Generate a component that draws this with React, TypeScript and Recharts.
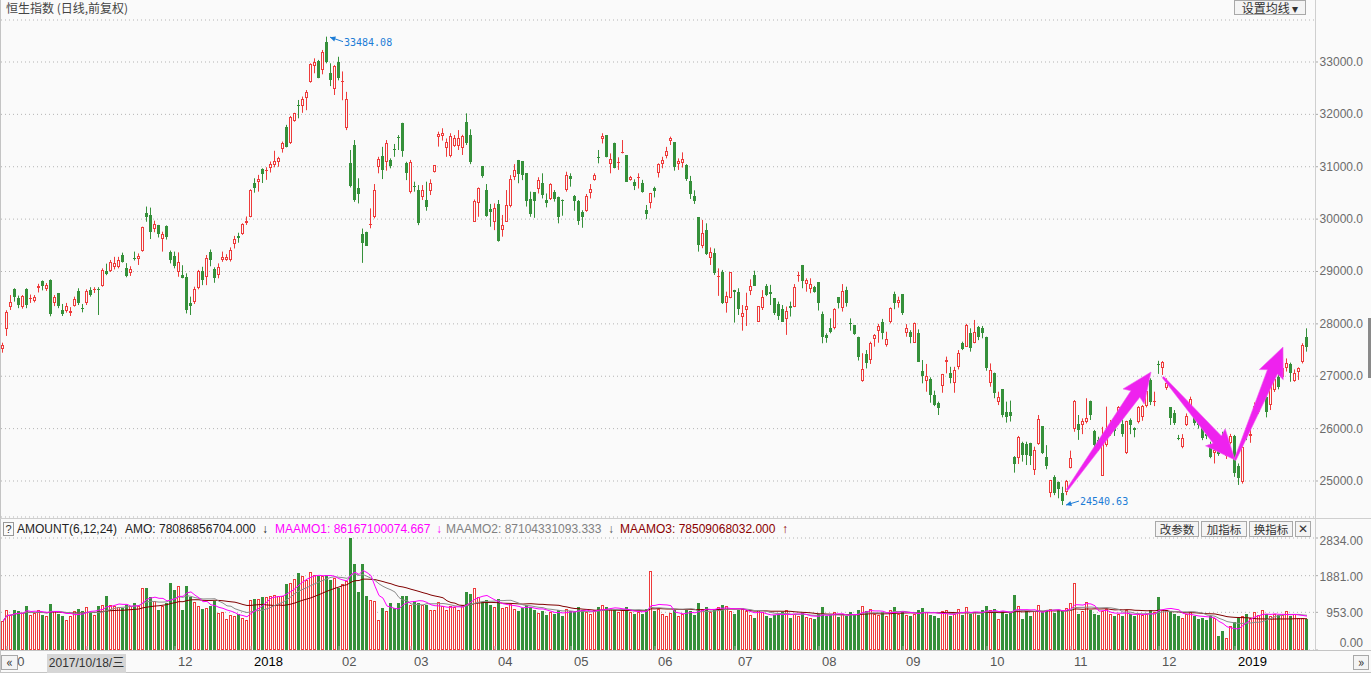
import React from "react"
import {
  ComposedChart,
  Bar,
  Line,
  XAxis,
  YAxis,
  CartesianGrid,
  ReferenceLine,
  ReferenceDot,
} from "recharts"

const RED = "#ee3b3b"
const GREEN = "#35903a"
const BG = "#fafafa"
const W = 1371

// 日K [开, 高, 低, 收], 2017/09/29 起
const candles: number[][] = [
  [27520,27640,27450,27600],[27910,28260,27770,28220],[28330,28550,28265,28425],[28665,28680,28425,28505],[28495,28540,28300,28360],[28330,28550,28290,28530],[28665,28680,28300,28360],[28470,28560,28400,28500],[28445,28550,28410,28520],[28690,28765,28600,28720],
  [28820,28830,28640,28725],[28665,28780,28630,28740],[28830,28850,28145,28190],[28390,28550,28340,28520],[28585,28590,28300,28340],[28265,28380,28150,28190],[28250,28400,28215,28340],[28200,28320,28150,28250],[28350,28520,28330,28475],[28635,28680,28360,28395],
  [28310,28380,28220,28295],[28395,28660,28360,28635],[28650,28700,28520,28555],[28640,28700,28590,28660],[28670,28700,28170,28660],[28730,29060,28710,29030],[29000,29150,28930,28955],[29015,29220,28990,29180],[29090,29280,29040,29160],[29090,29280,29060,29220],
  [29315,29360,29170,29185],[29060,29160,28890,28910],[28970,29100,28915,29050],[29260,29380,29210,29250],[29235,29345,29125,29300],[29400,29856,29378,29845],[30125,30240,29950,30035],[30080,30220,29620,29745],[29810,29970,29750,29905],[29880,29890,29650,29715],
  [29630,29760,29380,29715],[29860,29880,29610,29665],[29380,29400,29155,29220],[29300,29380,29060,29110],[28990,29365,28900,29180],[28930,29120,28870,28880],[28890,28965,28200,28265],[28395,28520,28170,28340],[28425,28710,28380,28660],[28680,29030,28660,29015],
  [29015,29090,28740,28840],[28890,29315,28740,29250],[29380,29420,29100,29210],[29040,29080,28785,28880],[28935,29155,28870,29080],[29220,29380,29185,29285],[29220,29330,29205,29270],[29220,29460,29190,29410],[29525,29680,29440,29620],[29680,29740,29550,29640],
  [29715,29920,29700,29905],[29935,30050,29890,29960],[30050,30570,30035,30555],[30695,30780,30505,30600],[30715,30845,30525,30765],[30950,30970,30690,30865],[30930,30990,30750,30940],[30975,31100,30890,31055],[31035,31305,30990,31110],[31100,31190,31000,31160],
  [31335,31480,31270,31450],[31755,31800,31370,31385],[31450,31970,31435,31945],[31875,32030,31860,32020],[32185,32275,31925,32180],[32165,32340,32030,32285],[32310,32465,32080,32435],[32625,32975,32605,32960],[32930,33070,32785,33005],[33020,33040,32690,32700],
  [32850,33230,32765,33185],[33390,33484.08,32975,33005],[32795,32975,32540,32655],[32480,32940,32370,32925],[33005,33100,32650,32690],[32620,32820,32270,32640],[31740,32430,31700,32295],[31080,31320,30605,30635],[31415,31510,30330,30365],[30590,30780,30300,30480],
  [29715,29820,29165,29540],[29760,29760,29490,29495],[29880,30205,29825,29900],[30045,30670,30015,30555],[30990,31190,30875,31150],[31205,31380,30765,30930],[31085,31510,30925,31460],[31130,31160,30970,31005],[31330,31435,31190,31320],[31560,31605,31320,31555],
  [31830,31840,31190,31305],[31070,31095,30745,30890],[30515,31130,30490,31090],[30640,30715,30525,30635],[30555,30650,29885,29920],[30420,30650,30365,30555],[30365,30715,30160,30240],[30545,30760,30460,30685],[30895,31030,30890,31030],[31565,31670,31385,31625],
  [31595,31735,31500,31650],[31350,31540,31190,31480],[31210,31640,31180,31590],[31395,31605,31380,31555],[31405,31700,31320,31545],[31355,31610,31225,31590],[31850,32020,31415,31460],[31610,31715,31050,31100],[29950,30375,29945,30355],[30305,30605,30045,30590],
  [31015,31015,30790,30825],[30555,30670,30045,30065],[30195,30290,29855,30145],[29950,30300,29790,30210],[30290,30365,29570,29575],[29795,30080,29665,29890],[29950,30555,29950,30270],[30245,30840,30225,30765],[30800,31050,30745,30940],[31130,31130,30685,30860],
  [31110,31110,30745,30845],[30875,30875,30240,30355],[30385,30525,30045,30100],[30510,30515,30025,30340],[30575,30800,30490,30755],[30690,30875,30395,30465],[30365,30490,30225,30300],[30385,30685,30365,30670],[30515,30555,30335,30385],[30420,30430,29920,30045],
  [30360,30375,30065,30355],[30555,30905,30525,30845],[30825,30875,30620,30765],[30440,30460,30160,30355],[30355,30365,29890,29970],[30140,30170,29835,30035],[30155,30480,30140,30440],[30495,30670,30395,30575],[30745,30875,30735,30845],[31190,31320,31065,31180],
  [31525,31640,31445,31585],[31605,31605,31180,31195],[31050,31255,30875,31150],[31460,31460,30970,30985],[31080,31180,30940,31090],[31270,31510,31255,31280],[31225,31225,30715,30715],[30745,30825,30735,30800],[30715,30760,30555,30640],[30800,30875,30585,30810],
  [30690,30750,30505,30525],[30165,30270,30000,30100],[30305,30500,30205,30495],[30595,30620,30415,30545],[30880,31065,30795,31045],[31050,31190,30970,31130],[31205,31380,31160,31300],[31500,31575,31415,31545],[31470,31470,30925,31000],[31050,31160,30940,31110],
  [31070,31275,30985,31150],[31035,31050,30730,30765],[30730,30825,30385,30480],[30440,30550,30290,30355],[30035,30035,29380,29505],[29480,29985,29445,29730],[29790,29920,29315,29335],[29250,29460,29125,29365],[29350,29440,28935,28965],[28900,29060,28535,28915],
  [28985,29030,28380,28395],[28395,28615,28215,28535],[28490,28985,28490,28985],[28650,28650,28025,28600],[28600,28680,28170,28285],[28125,28360,27870,28215],[28265,28595,27960,28340],[28635,28850,28550,28725],[28935,29015,28730,28730],[28040,28340,28040,28340],
  [28300,28645,28265,28510],[28730,28760,28530,28550],[28605,28745,28360,28570],[28490,28490,28170,28205],[28380,28425,28075,28155],[28280,28360,28040,28040],[28090,28330,27790,28255],[28340,28425,28140,28300],[28320,28760,28320,28700],[28925,28995,28805,28935],
  [29125,29125,28680,28825],[28760,28870,28615,28840],[28660,28870,28585,28760],[28710,28725,28595,28615],[28795,28795,28255,28395],[28190,28235,27630,27755],[27785,27820,27640,27725],[27915,28105,27820,27850],[27915,28300,27895,28280],[28510,28510,28295,28405],
  [28300,28760,28235,28635],[28650,28710,28330,28405],[28010,28105,27870,28000],[27980,27980,27790,27810],[27755,27755,27300,27360],[26900,27440,26895,27135],[27425,27500,27150,27260],[27310,27660,27235,27630],[27705,27805,27565,27785],[27865,28000,27640,27960],
  [28040,28095,27705,27830],[27595,27850,27565,27705],[28040,28315,28010,28295],[28570,28615,28280,28395],[28395,28520,28310,28455],[28570,28570,28170,28205],[27820,27995,27755,27915],[27850,27880,27630,27755],[27640,28025,27640,28010],[27820,27895,27280,27280],
  [27105,27310,26865,27005],[26915,27235,26705,27005],[26950,26980,26495,26640],[26640,26725,26430,26450],[26495,26515,26260,26390],[26820,27045,26685,27040],[27270,27375,27055,27310],[27060,27180,26865,26975],[26875,27180,26685,27120],[27180,27500,27130,27440],
  [27640,27660,27500,27520],[27565,28000,27565,27980],[27820,27915,27470,27545],[27635,28075,27630,27840],[27935,27960,27690,27755],[27915,27960,27725,27830],[27755,27755,27105,27150],[26875,27245,26800,27120],[27060,27070,26580,26675],[26515,26705,26450,26610],
  [26750,26750,26215,26260],[26320,26515,26115,26215],[26320,26535,26135,26240],[25465,25475,25160,25320],[25435,25860,25325,25845],[25720,25750,25370,25495],[25705,25750,25305,25495],[25720,25730,25305,25475],[25210,25655,25115,25590],[25705,26260,25690,26180],
  [26050,26050,25515,25530],[25455,25685,25225,25290],[24780,25020,24690,25020],[25085,25110,24730,24765],[24990,24990,24670,24845],[24780,24890,24540.63,24625],[24795,25020,24730,25005],[25255,25580,25240,25435],[25990,26545,25940,26530],[26090,26260,25785,25975],
  [26070,26195,25895,26150],[26135,26580,26100,26200],[26535,26535,26165,26260],[25960,25975,25590,25685],[25785,25845,25580,25605],[25100,26035,25100,25720],[25685,26420,25655,25845],[25900,26165,25860,26070],[26025,26025,25860,25960],[26135,26430,26070,26405],
  [26090,26175,25845,25900],[25530,26150,25515,26150],[26165,26195,25895,26070],[26010,26025,25835,25965],[26135,26430,26100,26405],[26215,26450,26150,26430],[26430,26740,26405,26725],[26935,26960,26450,26500],[26525,26705,26430,26535],[27225,27295,27045,27215],
  [27150,27290,27025,27280],[26770,26960,26740,26865],[26405,26405,26070,26195],[26295,26355,26070,26100],[25820,25880,25780,25815],[25645,25895,25625,25815],[26070,26290,26050,26240],[26410,26610,26355,26560],[26260,26330,26060,26100],[26195,26240,26000,26070],
  [26010,26195,25780,25815],[25900,25960,25800,25860],[25690,25750,25435,25465],[25530,25685,25335,25590],[25670,25720,25480,25515],[25860,25940,25720,25730],[25480,25600,25420,25560],[25730,25900,25700,25860],[25860,25880,25080,25160],[25290,25335,24925,25064],
  [24990,25700,24950,25645],[25975,26025,25780,25860],[25860,25985,25730,25900],[26240,26500,26200,26430],[26310,26560,26280,26520],[26535,26700,26500,26640],[26610,26640,26215,26325],[26450,26895,26355,26865],[26735,26980,26700,26940],[26990,27050,26750,26790],
  [26990,27150,26950,27150],[27150,27340,27090,27250],[27235,27260,26895,27055],[26900,27130,26895,27055],[27090,27170,26930,27155],[27280,27630,27245,27595],[27755,27915,27470,27565],
]

// 成交额(亿)
const volumes: number[] = [
  725,1021,894,1021,978,936,1122,894,936,1021,
  894,852,1172,978,919,852,768,852,978,1037,
  978,1088,936,894,1122,1147,1375,1147,1105,1088,
  1063,1147,1105,1189,1122,1568,1568,1341,1231,1021,
  1105,1189,1695,1509,1627,1021,1627,1341,1206,1105,
  1037,1063,1105,1231,936,953,785,894,869,919,
  810,768,1273,1290,1290,1332,1341,1375,1400,1375,
  1358,1678,1695,1796,1948,1880,1762,1965,1906,1880,
  1880,1906,1779,1821,1568,1678,1737,2834,2184,1459,
  2184,1358,1273,1231,768,1063,978,1189,1063,1189,
  1375,1358,1147,1231,1189,1147,1147,1004,1004,1206,
  1122,1021,
  1120,1080,1010,1150,1480,1420,1580,1330,1210,1260,1130,1090,1280,1060,
  1090,1160,1050,980,1060,1140,1100,1010,940,990,890,960,910,1010,860,
  1050,990,960,1100,1000,950,900,1000,1100,1150,1100,1050,1000,950,1000,1100,950,900,950,900,1050,1990,
  980,1050,900,870,940,1010,860,900,1010,980,890,1180,1050,1100,950,1000,1080,1150,1120,990,
  920,1000,1050,980,880,820,1000,950,860,820,880,900,960,1000,820,920,870,930,840,800,780,
  900,1080,860,880,950,830,900,850,960,880,1000,1120,980,1050,900,880,960,870,1000,1100,920,960,880,
  850,900,1010,1060,950,880,860,820,980,1020,860,900,1050,880,1080,920,950,880,1000,1120,1000,1050,
  785,978,900,950,1400,1105,785,978,869,978,1147,953,1021,1037,936,1021,978,1063,
  1189,1695,919,978,1206,1000,920,880,980,1050,900,870,920,860,1000,900,850,900,880,920,1010,950,
  1350,1020,1000,980,900,850,820,900,950,860,780,800,760,850,800,350,470,300,600,
  700,800,860,900,820,950,880,1000,900,850,900,880,880,980,860,900,820,800,781,
]

const monthStarts = [1, 21, 43, 62, 84, 102, 123, 142, 163, 183, 204, 225, 246, 267, 289, 308]
const monthLabels = ["10", "11", "12", "2018", "02", "03", "04", "05", "06", "07", "08", "09", "10", "11", "12", "2019"]
const priceTicks = [25000, 26000, 27000, 28000, 29000, 30000, 31000, 32000, 33000]
const volTicks = [0, 953, 1881, 2834]

// 手绘箭头 [起点序号, 起点价, 终点序号, 终点价]
const trendArrows = [
  [266, 24828, 287, 27081],
  [290, 26985, 308, 25401],
  [308, 25401, 320, 27558],
]

const avg = (n: number, i: number) => {
  const s = Math.max(0, i - n + 1)
  let t = 0
  for (let k = s; k <= i; k++) t += volumes[k]
  return t / (i - s + 1)
}

const data = candles.map((c, i) => ({
  i,
  o: c[0],
  h: c[1],
  l: c[2],
  c: c[3],
  range: [c[2], c[1]],
  vol: volumes[i],
  ma6: avg(6, i),
  ma12: avg(12, i),
  ma24: avg(24, i),
}))

let maxIdx = 0
let minIdx = 0
data.forEach((d, i) => {
  if (d.h > data[maxIdx].h) maxIdx = i
  if (d.l < data[minIdx].l) minIdx = i
})

function Candle(props: any) {
  const { x, y, width, height, payload } = props
  if (x == null || !payload) return null
  const { o, h, l, c } = payload
  const top = Math.min(y, y + height)
  const span = Math.abs(height)
  const py = (v: number) => (h === l ? top : top + ((h - v) / (h - l)) * span)
  const px = Math.round(x + width / 2 - 0.5)
  const up = c >= o
  const color = up ? RED : GREEN
  const bt = Math.round(py(Math.max(o, c)))
  const bb = Math.round(py(Math.min(o, c)))
  const bodyH = bb - bt
  return (
    <g>
      <rect x={px} y={top} width={1} height={Math.max(span, 1)} fill={color} />
      {bodyH < 2 ? (
        <rect x={px - 1} y={bt} width={3} height={1} fill={color} />
      ) : up ? (
        <rect x={px - 0.5} y={bt + 0.5} width={2} height={bodyH - 1} fill={BG} stroke={color} strokeWidth={1} />
      ) : (
        <rect x={px - 1} y={bt} width={3} height={bodyH} fill={color} />
      )}
    </g>
  )
}

function VolBar(props: any) {
  const { x, y, width, height, payload } = props
  if (x == null || !payload) return null
  const px = Math.round(x + width / 2 - 0.5)
  const top = Math.round(y)
  const h = Math.round(y + height) - top
  if (payload.c >= payload.o) {
    return <rect x={px - 0.5} y={top + 0.5} width={2} height={Math.max(h - 1, 0)} fill="#fff" stroke={RED} />
  }
  return <rect x={px - 1} y={top} width={3} height={h} fill={GREEN} />
}

function PriceTick(props: any) {
  const { x, y, payload } = props
  return (
    <text x={x + 45} y={y + 4} textAnchor="end" fontSize={12} fill="#6b6b6b" fontFamily="Liberation Sans, Arial">
      {Number(payload.value).toFixed(1)}
    </text>
  )
}

function VolTick(props: any) {
  const { x, y, payload } = props
  const v = Number(payload.value)
  const dy = v === 0 ? -3 : v === volTicks[volTicks.length - 1] ? 7 : 5
  return (
    <text x={x + 45} y={y + dy} textAnchor="end" fontSize={12} fill="#6b6b6b" fontFamily="Liberation Sans, Arial">
      {v.toFixed(2)}
    </text>
  )
}

function MonthTick(props: any) {
  const { x, y, payload } = props
  const k = monthStarts.indexOf(payload.value)
  const label = monthLabels[k] ?? ""
  const isYear = label.length === 4
  return (
    <g>
      <line x1={x} x2={x} y1={y - 4} y2={y} stroke="#aaa" />
      <text x={x + 3} y={y + 16} fontSize={13} fill={isYear ? "#000" : "#555"} fontFamily="Liberation Sans, Arial">
        {label}
      </text>
    </g>
  )
}

function Extreme({ cx, cy, value, below }: any) {
  if (cx == null) return null
  const blue = "#1c7cd6"
  const tipX = cx + 3
  const tipY = below ? cy : cy + 0.5
  const fromX = cx + 16
  const fromY = below ? cy - 4 : cy + 5
  const ang = Math.atan2(tipY - fromY, tipX - fromX)
  const hx = (a: number) => tipX - 6 * Math.cos(ang + a)
  const hy = (a: number) => tipY - 6 * Math.sin(ang + a)
  return (
    <g>
      <line x1={fromX} y1={fromY} x2={tipX} y2={tipY} stroke={blue} strokeWidth={1} />
      <polygon points={`${tipX},${tipY} ${hx(0.45)},${hy(0.45)} ${hx(-0.45)},${hy(-0.45)}`} fill={blue} />
      <text x={cx + 17} y={below ? cy : cy + 9} fontSize={10} fill={blue} fontFamily="DejaVu Sans Mono, monospace">
        {value}
      </text>
    </g>
  )
}

function FatArrow(props: any) {
  const { x1, y1, x2, y2 } = props
  if (x1 == null) return null
  const dx = x2 - x1
  const dy = y2 - y1
  const len = Math.sqrt(dx * dx + dy * dy)
  const ux = dx / len
  const uy = dy / len
  const nx = -uy
  const ny = ux
  const headL = 27
  const nX = x2 - ux * headL
  const nY = y2 - uy * headL
  const p = (bx: number, by: number, w: number) => `${bx + nx * w},${by + ny * w}`
  const pts = [
    p(x1, y1, 1),
    p(nX, nY, 5.5),
    p(nX - ux * 3, nY - uy * 3, 13),
    `${x2},${y2}`,
    p(nX - ux * 3, nY - uy * 3, -13),
    p(nX, nY, -5.5),
    p(x1, y1, -1),
  ].join(" ")
  return <polygon points={pts} fill="#ee22ee" stroke="#f060f0" strokeWidth={0.6} strokeLinejoin="round" />
}

const hdr: React.CSSProperties = {
  position: "absolute",
  top: 521,
  fontSize: 12,
  lineHeight: "16px",
  whiteSpace: "nowrap",
  fontFamily: "Liberation Sans, Arial",
}

const btn: React.CSSProperties = {
  position: "absolute",
  top: 521,
  height: 16,
  border: "1px solid #a8a8a8",
  background: "#f4f4f4",
  fontSize: 12,
  lineHeight: "14px",
  textAlign: "center",
  color: "#333",
  fontFamily: "Noto Sans CJK SC",
  boxSizing: "border-box",
  whiteSpace: "nowrap",
  overflow: "hidden",
}

export default function App() {
  return (
    <div
      style={{
        position: "absolute",
        left: 0,
        top: 0,
        width: W,
        height: 673,
        background: BG,
        overflow: "hidden",
        fontFamily: "Liberation Sans, Arial",
      }}
    >
      <div style={{ position: "absolute", left: 0, top: 0 }}>
        <ComposedChart width={W} height={518} data={data} margin={{ top: 20, right: 0, left: 1, bottom: 1 }}>
          <CartesianGrid vertical={false} stroke="#b4b4b4" strokeDasharray="1 3" />
          <XAxis dataKey="i" hide padding={{ left: 0, right: 6 }} />
          <YAxis
            orientation="right"
            width={56}
            domain={[24312.6, 33801.9]}
            ticks={priceTicks}
            interval={0}
            allowDataOverflow
            axisLine={false}
            tickLine={{ stroke: "#aaa" }}
            tickSize={3}
            tickMargin={0}
            tick={<PriceTick />}
          />
          <Bar dataKey="range" shape={<Candle />} isAnimationActive={false} />
          <ReferenceDot
            x={maxIdx}
            y={data[maxIdx].h}
            r={0}
            ifOverflow="visible"
            shape={(p: any) => <Extreme {...p} value={data[maxIdx].h.toFixed(2)} />}
          />
          <ReferenceDot
            x={minIdx}
            y={data[minIdx].l}
            r={0}
            ifOverflow="visible"
            shape={(p: any) => <Extreme {...p} value={data[minIdx].l.toFixed(2)} below />}
          />
          {trendArrows.map((a, k) => (
            <ReferenceLine
              key={k}
              segment={[
                { x: a[0], y: a[1] },
                { x: a[2], y: a[3] },
              ]}
              ifOverflow="visible"
              shape={(p: any) => <FatArrow {...p} />}
            />
          ))}
        </ComposedChart>
      </div>

      <div style={{ position: "absolute", left: 0, top: 519 }}>
        <ComposedChart width={W} height={154} data={data} margin={{ top: 19, right: 0, left: 1, bottom: 0 }}>
          <CartesianGrid vertical={false} stroke="#b4b4b4" strokeDasharray="1 3" />
          <XAxis
            dataKey="i"
            ticks={monthStarts}
            interval={0}
            height={23}
            padding={{ left: 0, right: 6 }}
            axisLine={false}
            tickLine={false}
            tickSize={0}
            tickMargin={0}
            tick={<MonthTick />}
          />
          <YAxis
            orientation="right"
            width={56}
            domain={[0, 2834]}
            ticks={volTicks}
            interval={0}
            allowDataOverflow
            axisLine={false}
            tickLine={{ stroke: "#aaa" }}
            tickSize={3}
            tickMargin={0}
            tick={<VolTick />}
          />
          <Bar dataKey="vol" shape={<VolBar />} isAnimationActive={false} />
          <Line dataKey="ma24" stroke="#800000" strokeWidth={1} dot={false} isAnimationActive={false} />
          <Line dataKey="ma12" stroke="#8c8c8c" strokeWidth={1} dot={false} isAnimationActive={false} />
          <Line dataKey="ma6" stroke="#ff00ff" strokeWidth={1} dot={false} isAnimationActive={false} />
        </ComposedChart>
      </div>

      {/* frame lines */}
      <div style={{ position: "absolute", left: 0, top: 0, width: 1, height: 673, background: "#c4c4c4" }} />
      <div style={{ position: "absolute", left: 1315, top: 0, width: 1, height: 651, background: "#cfcfcf" }} />
      <div style={{ position: "absolute", left: 0, top: 518, width: W, height: 1, background: "#cfcfcf" }} />
      <div style={{ position: "absolute", left: 0, top: 650, width: W, height: 1, background: "#c4c4c4" }} />
      <div style={{ position: "absolute", left: 0, top: 672, width: W, height: 1, background: "#c4c4c4" }} />
      <div style={{ position: "absolute", left: 1368, top: 318, width: 3, height: 60, background: "#8a8a8a" }} />

      <div style={{ position: "absolute", left: 6, top: 0, fontSize: 12, lineHeight: "16px", color: "#444", fontFamily: "Noto Sans CJK SC" }}>
        恒生指数 (日线,前复权)
      </div>
      <div style={{ ...btn, top: 0, left: 1234, width: 72, height: 15 }}>设置均线 ▾</div>

      <div
        style={{
          position: "absolute",
          left: 3,
          top: 522,
          width: 11,
          height: 14,
          border: "1px solid #999",
          boxSizing: "border-box",
          fontSize: 11,
          lineHeight: "12px",
          textAlign: "center",
          color: "#333",
        }}
      >
        ?
      </div>
      <div style={{ ...hdr, left: 17, color: "#222" }}>AMOUNT(6,12,24)</div>
      <div style={{ ...hdr, left: 125, color: "#222" }}>AMO: 78086856704.000</div>
      <div style={{ ...hdr, left: 262, color: "#222" }}>↓</div>
      <div style={{ ...hdr, left: 275, color: "#ff00ff" }}>MAAMO1: 86167100074.667</div>
      <div style={{ ...hdr, left: 436, color: "#ff00ff" }}>↓</div>
      <div style={{ ...hdr, left: 446, color: "#808080" }}>MAAMO2: 87104331093.333</div>
      <div style={{ ...hdr, left: 608, color: "#555" }}>↓</div>
      <div style={{ ...hdr, left: 620, color: "#8b0000" }}>MAAMO3: 78509068032.000</div>
      <div style={{ ...hdr, left: 782, color: "#8b0000" }}>↑</div>

      <div style={{ ...btn, left: 1155, width: 44, fontSize: 11.5 }}>改参数</div>
      <div style={{ ...btn, left: 1201, width: 46, fontSize: 11.5 }}>加指标</div>
      <div style={{ ...btn, left: 1249, width: 44, fontSize: 11.5 }}>换指标</div>
      <div style={{ ...btn, left: 1295, width: 16, fontFamily: "Liberation Sans, Arial" }}>✕</div>

      <div style={{ ...btn, top: 655, left: 1, width: 17, height: 15, fontSize: 13, lineHeight: "12px" }}>«</div>
      <div style={{ ...btn, top: 655, left: 1353, width: 16, height: 15, fontSize: 13, lineHeight: "12px" }}>»</div>
      <div
        style={{
          position: "absolute",
          left: 47,
          top: 654,
          width: 79,
          height: 19,
          background: "#d6d6d6",
          fontSize: 12,
          lineHeight: "19px",
          textAlign: "center",
          whiteSpace: "nowrap",
          color: "#333",
          fontFamily: "Liberation Sans, Noto Sans CJK SC",
        }}
      >
        2017/10/18/三
      </div>
    </div>
  )
}
